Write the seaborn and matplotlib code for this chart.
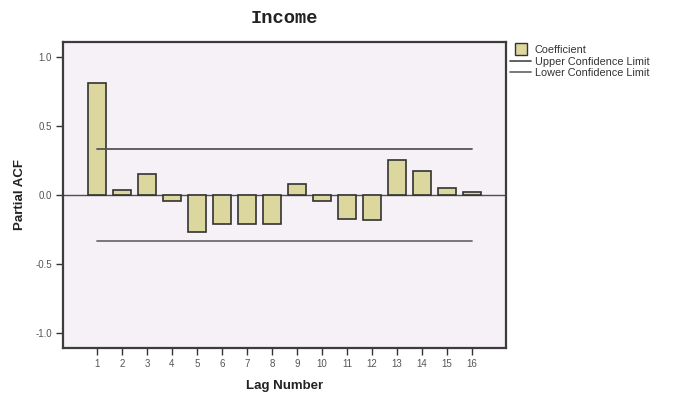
import matplotlib
matplotlib.use("Agg")
import matplotlib.pyplot as plt
from matplotlib.lines import Line2D
import pandas as pd
import seaborn as sns

# Partial autocorrelation of Income by lag
lags = list(range(1, 17))
pacf = [0.814, 0.036, 0.150, -0.046, -0.266, -0.212, -0.210, -0.212,
        0.078, -0.043, -0.176, -0.180, 0.251, 0.172, 0.054, 0.022]
upper_limit = [0.333] * len(lags)
lower_limit = [-0.333] * len(lags)

df = pd.DataFrame({"Lag Number": lags, "Partial ACF": pacf})

sns.set_theme(style="white")
plt.rcParams["font.family"] = ["Liberation Sans", "DejaVu Sans"]

fig = plt.figure(figsize=(6.76, 3.95), dpi=100)
ax = fig.add_axes([0.0932, 0.119, 0.6553, 0.7747])
ax.set_facecolor("#f5f1f6")

bar_color = "#dcd69f"
edge = "#333333"
sns.barplot(data=df, x="Lag Number", y="Partial ACF", native_scale=True,
            color=bar_color, saturation=1, width=0.74, edgecolor=edge,
            linewidth=1.2, ax=ax, zorder=3)

ax.axhline(0, color="#505050", lw=1.0, zorder=2)
ax.plot(lags, upper_limit, color="#555555", lw=1.3, zorder=4)
ax.plot(lags, lower_limit, color="#6e6e6e", lw=1.3, zorder=4)

ax.set_xlim(-0.36, 17.36)
ax.set_ylim(-1.11, 1.11)
ax.set_xticks(lags)
ax.set_xticklabels([str(l) for l in lags])
ax.set_yticks([-1.0, -0.5, 0.0, 0.5, 1.0])
ax.set_yticklabels(["-1.0", "-0.5", "0.0", "0.5", "1.0"])
ax.tick_params(axis="both", which="major", direction="out", length=5,
               width=1.0, color="#333333", labelsize=7, labelcolor="#555555",
               pad=3, left=True, bottom=True)

for s in ax.spines.values():
    s.set_color("#3c3c3c")
    s.set_linewidth(1.6)

ax.set_xlabel("Lag Number", fontsize=9.5, fontweight="bold", color="#222222", labelpad=8)
ax.set_ylabel("Partial ACF", fontsize=9.5, fontweight="bold", color="#222222", labelpad=7)

ax.set_title("Income", fontsize=13.5, fontweight="bold",
             family=["Liberation Mono", "DejaVu Sans Mono"],
             color="#222222", pad=14)

handles = [
    Line2D([0], [0], linestyle="none", marker="s", markersize=8,
           markerfacecolor=bar_color, markeredgecolor=edge,
           markeredgewidth=1.0, label="Coefficient"),
    Line2D([0], [0], color="#555555", lw=1.3, label="Upper Confidence Limit"),
    Line2D([0], [0], color="#6e6e6e", lw=1.3, label="Lower Confidence Limit"),
]
fig.legend(handles=handles, loc="upper left", bbox_to_anchor=(0.7476, 0.897),
           frameon=False, fontsize=7.8, handlelength=2.0,
           handletextpad=0.3, labelspacing=0.15, borderaxespad=0,
           labelcolor="#333333")

fig.savefig("out.png", dpi=100, facecolor="white")
